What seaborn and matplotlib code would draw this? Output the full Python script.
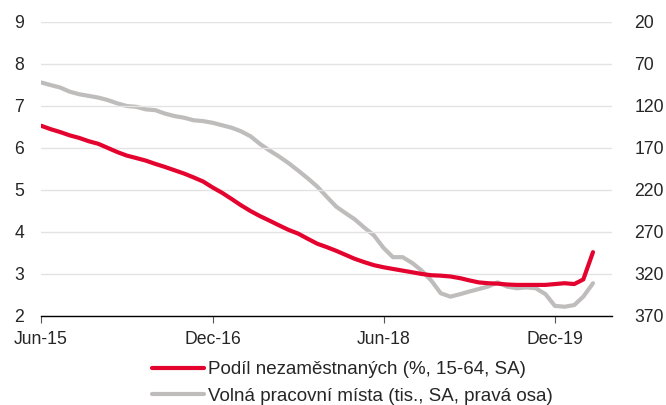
import pandas as pd
import seaborn as sns
import matplotlib.pyplot as plt

# monthly data, Jun-2015 .. Apr-2020
months = pd.date_range('2015-06-01', '2020-04-01', freq='MS')

unemployment = [6.53, 6.45, 6.38, 6.30, 6.24, 6.16, 6.10, 6.00, 5.90, 5.82,
                5.76, 5.70, 5.62, 5.55, 5.47, 5.39, 5.30, 5.20, 5.06, 4.93,
                4.78, 4.64, 4.50, 4.38, 4.27, 4.16, 4.05, 3.96, 3.84, 3.72,
                3.64, 3.55, 3.45, 3.36, 3.28, 3.21, 3.16, 3.12, 3.08, 3.04,
                3.00, 2.97, 2.96, 2.94, 2.90, 2.85, 2.80, 2.78, 2.77, 2.75,
                2.74, 2.74, 2.74, 2.74, 2.76, 2.78, 2.76, 2.87, 3.52]

vacancies = [92, 95, 98, 103, 106, 108, 110, 113, 117, 120,
             121, 124, 125, 129, 132, 134, 137, 138, 140, 143,
             146, 150, 156, 165, 173, 180, 188, 197, 206, 216,
             228, 240, 248, 255, 265, 274, 289, 300, 300, 307,
             316, 328, 343, 347, 344, 341, 338, 335, 330, 335,
             337, 336, 337, 344, 358, 359, 357, 347, 331]

label_u = 'Podíl nezaměstnaných (%, 15-64, SA)'
label_v = 'Volná pracovní místa (tis., SA, pravá osa)'
tick_dates = ['2015-06-01', '2016-12-01', '2018-06-01', '2019-12-01']
tick_labels = ['Jun-15', 'Dec-16', 'Jun-18', 'Dec-19']

RED = '#E4032E'
GREY = '#BFBCBC'

sns.set_style('white')
plt.rcParams['font.family'] = ['Liberation Sans', 'DejaVu Sans']

df = pd.DataFrame(dict(date=months, u=unemployment, v=vacancies))

fig = plt.figure(figsize=(6.66, 4.05), dpi=100)
ax = fig.add_axes([0.0616, 0.2198, 0.8574, 0.7259])
ax2 = ax.twinx()

sns.lineplot(data=df, x='date', y='v', ax=ax2, color=GREY, linewidth=3, label=label_v, legend=False)
sns.lineplot(data=df, x='date', y='u', ax=ax, color=RED, linewidth=3, label=label_u, legend=False)
# keep red on top of grey
ax.set_zorder(ax2.get_zorder() + 1)
ax.patch.set_visible(False)

ax.set_ylim(2, 9)
ax.set_yticks(range(2, 10))
ax2.set_ylim(370, 20)
ax2.set_yticks(range(20, 371, 50))
ax.set_xlim(pd.Timestamp('2015-06-01'), pd.Timestamp('2020-06-01'))
ax.set_xticks([pd.Timestamp(d) for d in tick_dates])
ax.set_xticklabels(tick_labels)

ax.grid(axis='y', color='#E3E3E3', linewidth=1)
ax.set_xlabel('')
ax.set_ylabel('')
ax2.set_ylabel('')

for a in (ax, ax2):
  for s in a.spines.values():
    s.set_visible(False)
ax.spines['bottom'].set_visible(True)
ax.spines['bottom'].set_color('black')
ax.spines['bottom'].set_linewidth(1)

ax.tick_params(axis='x', length=5, width=0.8, color='#555555', direction='out', labelsize=12.7, pad=6, bottom=True)
ax.tick_params(axis='y', length=0, labelsize=12.7, pad=12)
ax2.tick_params(axis='y', length=0, labelsize=12.7, pad=16)

h1, l1 = ax.get_legend_handles_labels()
h2, l2 = ax2.get_legend_handles_labels()
fig.legend(h1 + h2, l1 + l2, loc='upper left', bbox_to_anchor=(0.228, 0.108),
           frameon=False, fontsize=13.5, handlelength=2.8, handletextpad=0.2,
           labelspacing=0.5, borderpad=0, borderaxespad=0)

fig.savefig('out.png', dpi=100)
